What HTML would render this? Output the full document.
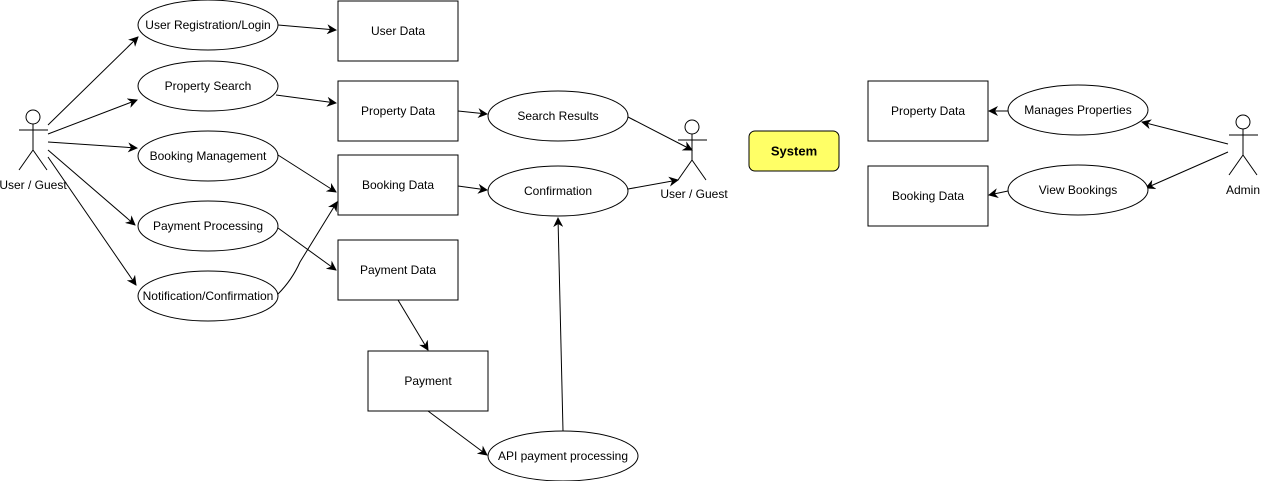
<!DOCTYPE html>
<html><head><meta charset="utf-8"><style>
html,body{margin:0;padding:0;background:#fff;}
svg{display:block;}
text{font-family:"Liberation Sans",Helvetica,Arial,sans-serif;font-size:12px;fill:#000;text-anchor:middle;dominant-baseline:central;}
.s{fill:#fff;stroke:#000;stroke-width:1;}
.l{stroke:#000;stroke-width:1;fill:none;marker-end:url(#a);}
.f{stroke:#000;stroke-width:1;fill:none;}
</style></head><body>
<svg width="1261" height="481" viewBox="0 0 1261 481" xmlns="http://www.w3.org/2000/svg">
<defs><marker id="a" viewBox="0 0 10 10" refX="9" refY="5" markerWidth="10" markerHeight="10" markerUnits="userSpaceOnUse" orient="auto"><path d="M0,0 L10,5 L0,10 L3,5 z" fill="#000"/></marker></defs>

<!-- left actor -->
<circle cx="33" cy="117" r="7" class="s"/>
<line x1="33" y1="124" x2="33" y2="150" class="f"/>
<line x1="19" y1="130" x2="48" y2="130" class="f"/>
<line x1="33" y1="150" x2="19" y2="170" class="f"/>
<line x1="33" y1="150" x2="47" y2="170" class="f"/>
<text x="33" y="185">User / Guest</text>

<!-- mid actor -->
<circle cx="692" cy="127" r="7" class="s"/>
<line x1="692" y1="134" x2="692" y2="160" class="f"/>
<line x1="678" y1="140" x2="707" y2="140" class="f"/>
<line x1="692" y1="160" x2="678" y2="180" class="f"/>
<line x1="692" y1="160" x2="706" y2="180" class="f"/>
<text x="694" y="194">User / Guest</text>

<!-- admin -->
<circle cx="1243" cy="122" r="7" class="s"/>
<line x1="1243" y1="129" x2="1243" y2="155" class="f"/>
<line x1="1229" y1="135" x2="1258" y2="135" class="f"/>
<line x1="1243" y1="155" x2="1229" y2="175" class="f"/>
<line x1="1243" y1="155" x2="1257" y2="175" class="f"/>
<text x="1243" y="190">Admin</text>

<!-- connectors -->
<line x1="48" y1="125" x2="138" y2="37" class="l"/>
<line x1="48" y1="134" x2="137" y2="100" class="l"/>
<line x1="48" y1="142" x2="137" y2="148" class="l"/>
<line x1="48" y1="150" x2="135" y2="225" class="l"/>
<line x1="48" y1="157" x2="136" y2="285" class="l"/>
<line x1="278" y1="25" x2="336" y2="30" class="l"/>
<line x1="276" y1="95" x2="336" y2="103" class="l"/>
<line x1="278" y1="155" x2="336" y2="192" class="l"/>
<line x1="278" y1="228" x2="336" y2="270" class="l"/>
<path d="M278,294 Q292,280 300,262 L337,202" class="l"/>
<line x1="458" y1="111" x2="487" y2="114" class="l"/>
<line x1="458" y1="186" x2="487" y2="190" class="l"/>
<line x1="628" y1="117" x2="692" y2="150" class="l"/>
<line x1="628" y1="189" x2="678" y2="180" class="l"/>
<line x1="398" y1="300" x2="428" y2="350" class="l"/>
<line x1="428" y1="411" x2="487" y2="455" class="l"/>
<line x1="563" y1="431" x2="558" y2="218" class="l"/>
<line x1="1228" y1="144" x2="1142" y2="122" class="l"/>
<line x1="1228" y1="152" x2="1146" y2="188" class="l"/>
<line x1="1008" y1="111" x2="989" y2="111" class="l"/>
<line x1="1008" y1="191" x2="989" y2="195" class="l"/>

<!-- left ellipses -->
<ellipse cx="208" cy="25" rx="70" ry="25" class="s"/><text x="208" y="25">User Registration/Login</text>
<ellipse cx="208" cy="86" rx="70" ry="25" class="s"/><text x="208" y="86">Property Search</text>
<ellipse cx="208" cy="156" rx="70" ry="25" class="s"/><text x="208" y="156">Booking Management</text>
<ellipse cx="208" cy="226" rx="70" ry="25" class="s"/><text x="208" y="226">Payment Processing</text>
<ellipse cx="208" cy="296" rx="70" ry="25" class="s"/><text x="208" y="296">Notification/Confirmation</text>

<!-- rects -->
<rect x="338" y="1" width="120" height="60" class="s"/><text x="398" y="31">User Data</text>
<rect x="338" y="81" width="120" height="60" class="s"/><text x="398" y="111">Property Data</text>
<rect x="338" y="155" width="120" height="60" class="s"/><text x="398" y="185">Booking Data</text>
<rect x="338" y="240" width="120" height="60" class="s"/><text x="398" y="270">Payment Data</text>
<rect x="368" y="351" width="120" height="60" class="s"/><text x="428" y="381">Payment</text>

<!-- mid ellipses -->
<ellipse cx="558" cy="116" rx="70" ry="25" class="s"/><text x="558" y="116">Search Results</text>
<ellipse cx="558" cy="191" rx="70" ry="25" class="s"/><text x="558" y="191">Confirmation</text>
<ellipse cx="563" cy="456" rx="75" ry="25" class="s"/><text x="563" y="456">API payment processing</text>

<!-- system -->
<rect x="749" y="131" width="90" height="40" rx="6" ry="6" fill="#ffff66" stroke="#000"/>
<text x="794" y="151" style="font-weight:bold;font-size:13px">System</text>

<!-- right -->
<rect x="868" y="81" width="120" height="60" class="s"/><text x="928" y="111">Property Data</text>
<rect x="868" y="166" width="120" height="60" class="s"/><text x="928" y="196">Booking Data</text>
<ellipse cx="1078" cy="110" rx="70" ry="25" class="s"/><text x="1078" y="110">Manages Properties</text>
<ellipse cx="1078" cy="190" rx="70" ry="25" class="s"/><text x="1078" y="190">View Bookings</text>
</svg>
</body></html>
